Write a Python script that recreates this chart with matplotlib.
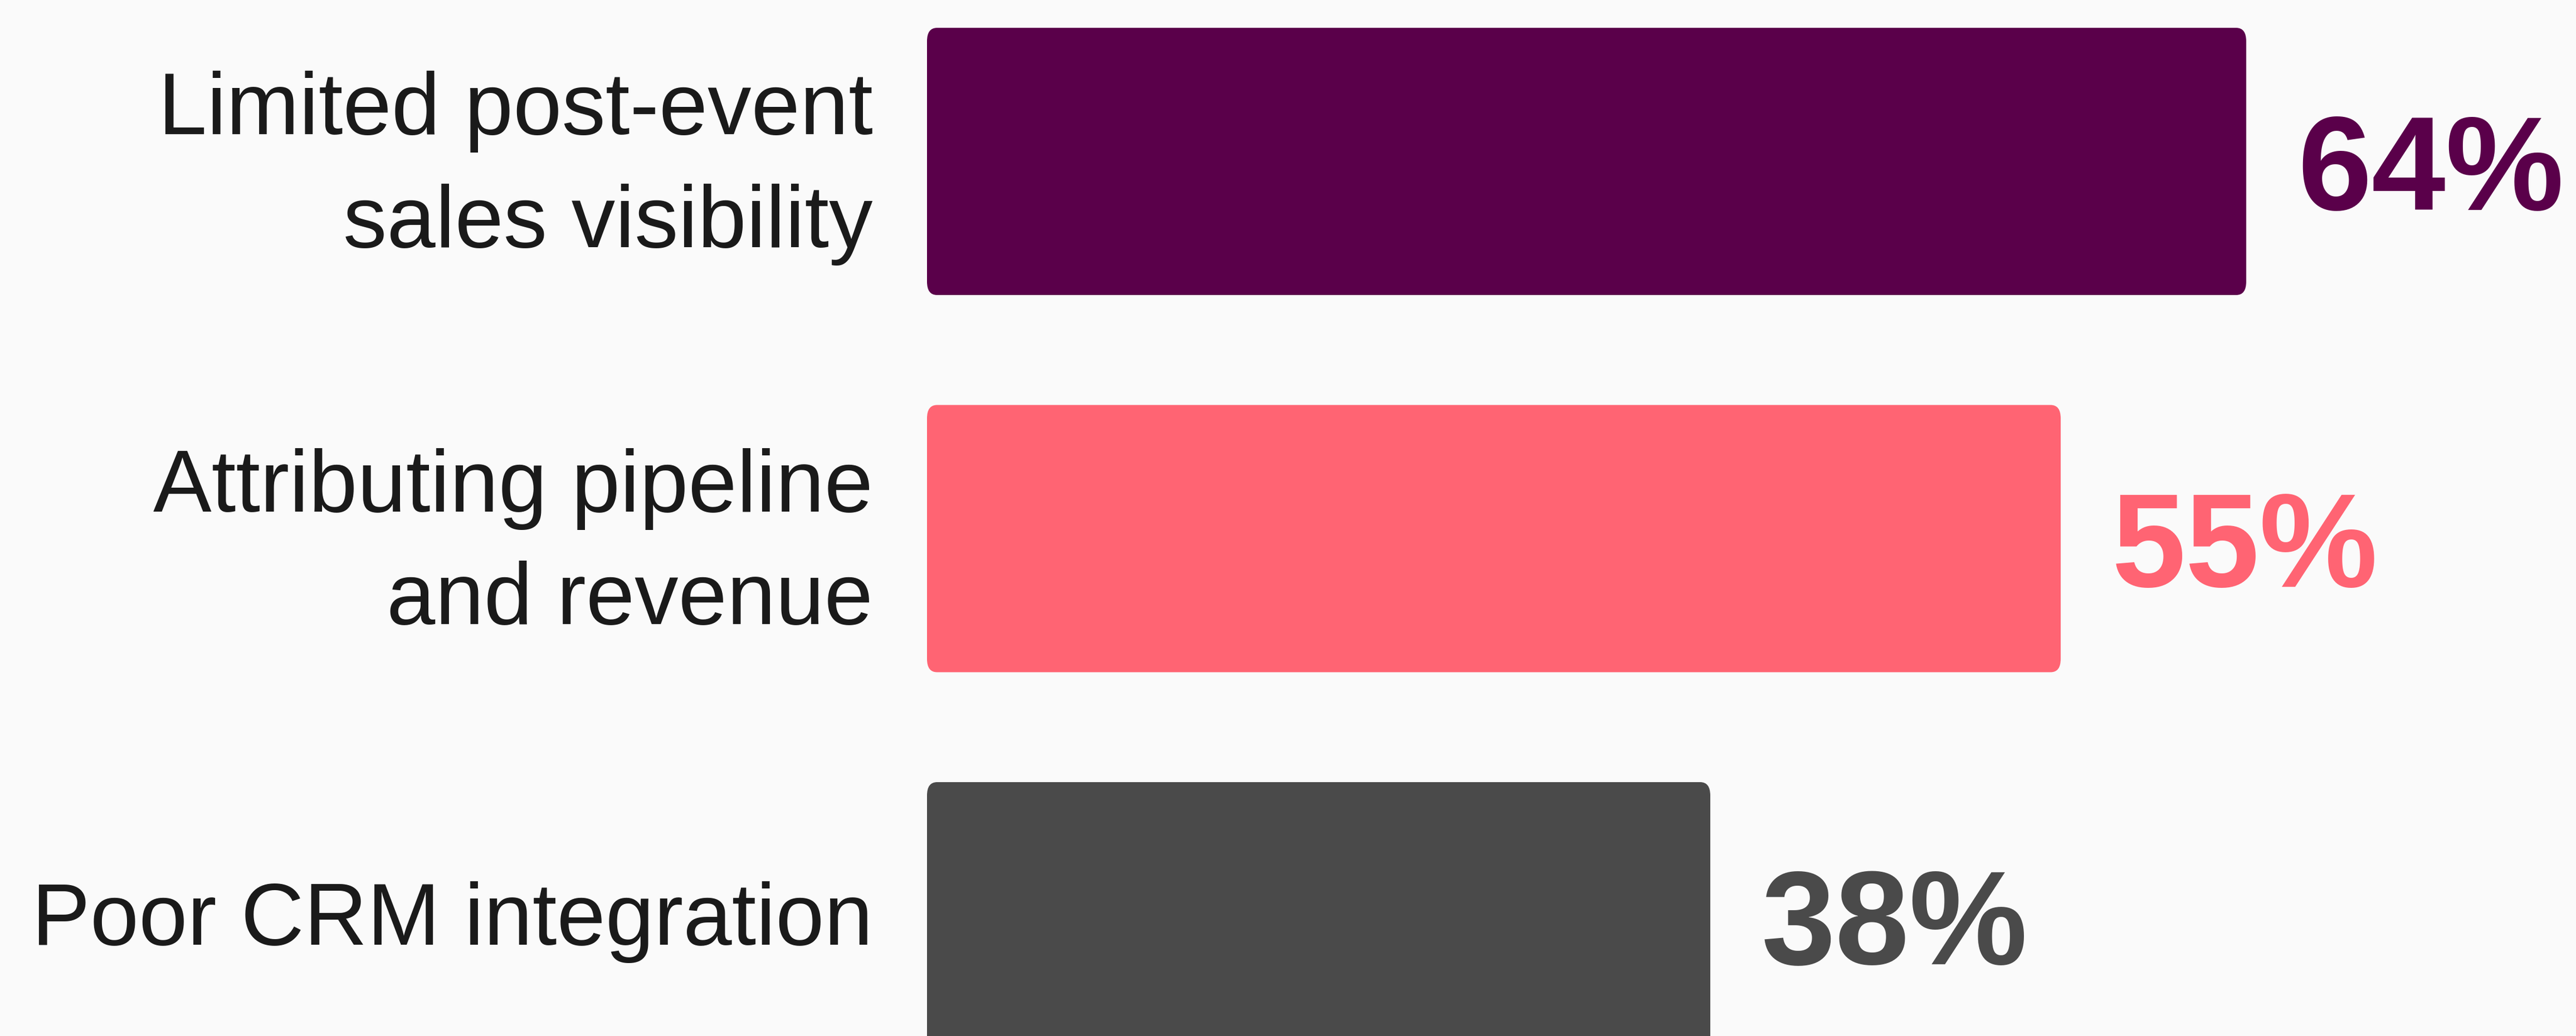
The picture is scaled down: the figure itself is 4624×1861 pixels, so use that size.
import matplotlib
matplotlib.use("Agg")
import matplotlib.pyplot as plt
from matplotlib.patches import FancyBboxPatch

# Survey results: top challenges
categories = [
    "Limited post-event\nsales visibility",
    "Attributing pipeline\nand revenue",
    "Poor CRM integration",
]
values = [64, 55, 38]
bar_colors = ["#5A004A", "#FF6473", "#4A4A4A"]

BG = "#FAFAFA"
W, H, DPI = 4624, 1861, 100
PT = 72 / DPI  # points per pixel

fig = plt.figure(figsize=(W / DPI, H / DPI), dpi=DPI, facecolor=BG)

# pixel geometry of the plotting area
px_per_unit = 37.0           # horizontal pixels per percentage point
row_px = 677.5               # vertical pixels between bars
first_center_px = 290        # from top
left_px = 1664

ax = fig.add_axes([left_px / W, 0, 1 - left_px / W, 1])
ax.set_facecolor(BG)
ax.set_xlim(0, (W - left_px) / px_per_unit)
top = -first_center_px / row_px
bottom = (H - first_center_px) / row_px
ax.set_ylim(bottom, top)
ax.set_axis_off()

bar_h = 480 / row_px
positions = list(range(len(categories)))
bars = ax.barh(positions, values, height=bar_h, color=bar_colors)

# replace plain rectangles with rounded ones
rx_px, ry_px = 18, 24
rx = rx_px / px_per_unit
ry = ry_px / row_px
for rect, color in zip(bars, bar_colors):
    rect.set_visible(False)
    patch = FancyBboxPatch(
        (rect.get_x(), rect.get_y()), rect.get_width(), rect.get_height(),
        boxstyle=f"round,pad=0,rounding_size={rx}",
        mutation_aspect=ry / rx,
        facecolor=color, edgecolor="none",
    )
    ax.add_patch(patch)

# category labels, right-aligned to the left of the bars
for pos, cat in zip(positions, categories):
    ax.annotate(cat, xy=(0, pos), xytext=(-97 * PT, -12 * PT),
                textcoords="offset points", ha="right", va="center",
                multialignment="right", linespacing=1.49,
                fontfamily="Liberation Sans", fontsize=113, color="#1A1A1A",
                annotation_clip=False)

# value labels at the end of each bar
for pos, val, color in zip(positions, values, bar_colors):
    ax.annotate(f"{val}%", xy=(val, pos), xytext=(92 * PT, 0),
                textcoords="offset points", ha="left", va="center_baseline",
                fontsize=172, fontfamily="Liberation Sans", fontweight="bold",
                color=color, annotation_clip=False)

fig.savefig("out.png", dpi=DPI, facecolor=BG)
